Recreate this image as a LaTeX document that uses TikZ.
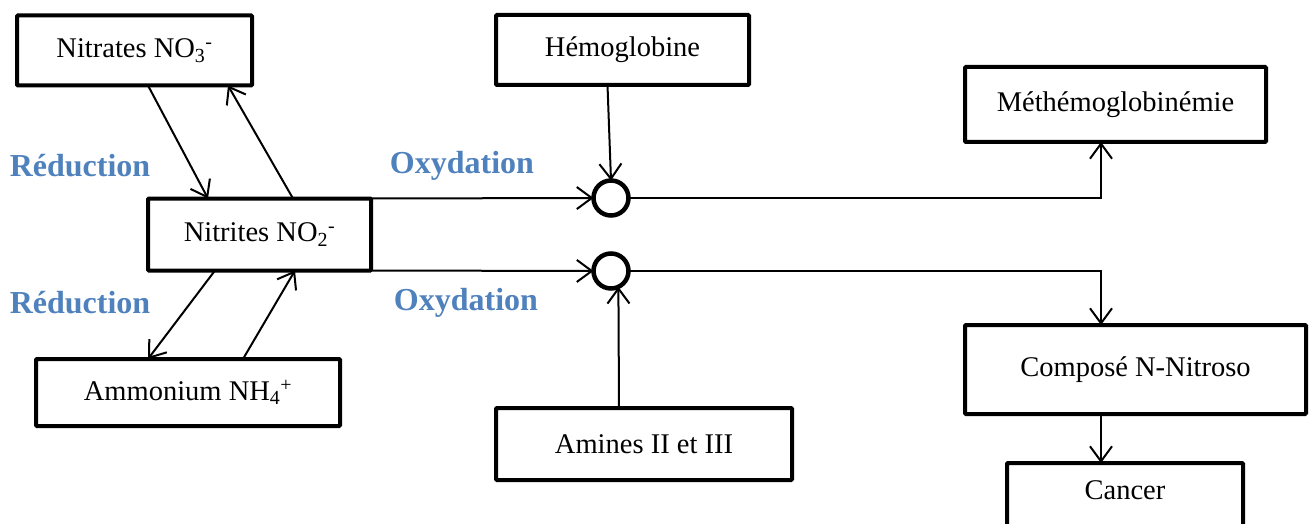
\documentclass[tikz,border=0pt]{standalone}
\usepackage{fontspec}
\setmainfont{Liberation Serif}
\usetikzlibrary{arrows.meta}
\definecolor{lblue}{RGB}{79,129,189}
\tikzset{
  box/.style={draw, line width=4pt, rounded corners=1pt, outer sep=0pt, inner sep=0pt,
    font=\fontsize{28.5}{34}\selectfont},
  junc/.style={draw, circle, line width=4.5pt, minimum size=35pt, inner sep=0pt, outer sep=0pt},
  arr/.style={line width=2pt, -{Straight Barb[length=15pt,width=22pt,line width=2pt]}},
  thinarr/.style={line width=1.5pt, -{Straight Barb[length=15pt,width=22pt,line width=2pt]}},
  lbl/.style={text=lblue, font=\bfseries\fontsize{32}{38}\selectfont, inner sep=0pt}
}
\begin{document}
\begin{tikzpicture}[x=1pt,y=-1pt]
\useasboundingbox (0,0) rectangle (1312,524);
% boxes
\node[box, minimum width=235pt, minimum height=70pt] (nitrates) at (134.5,50.5) {Nitrates NO\textsubscript{3}\textsuperscript{-}};
\node[box, minimum width=223pt, minimum height=72pt] (nitrites) at (259.5,234.5) {Nitrites NO\textsubscript{2}\textsuperscript{-}};
\node[box, minimum width=304pt, minimum height=67pt] (ammonium) at (188,392.5) {Ammonium NH\textsubscript{4}\textsuperscript{+}};
\node[box, minimum width=253pt, minimum height=70pt] (hemo) at (622.5,50) {Hémoglobine};
\node[box, minimum width=301pt, minimum height=75pt] (meth) at (1115.5,104.5) {Méthémoglobinémie};
\node[box, minimum width=341pt, minimum height=89pt] (compose) at (1135.5,369.5) {Composé N-Nitroso};
\node[box, minimum width=296pt, minimum height=72pt] (amines) at (644,444) {Amines II et III};
\node[box, minimum width=236pt, anchor=north, text height=36pt, text depth=40pt] (cancer) at (1125,463) {Cancer};
% junctions
\node[junc] (c1) at (611,198) {};
\node[junc] (c2) at (611,271) {};
% labels
\node[lbl] (r1) at (80,166) {Réduction};
\node[lbl] (r2) at (80,303) {Réduction};
\node[lbl] (o1) at (462,166) {Oxydation};
\node[lbl] (o2) at (466,303) {Oxydation};
% nitrogen cycle arrows
\draw[arr] ([xshift=131pt]nitrates.south west) -- ([xshift=60pt]nitrites.north west);
\draw[arr] ([xshift=145pt]nitrites.north west) -- ([xshift=211pt]nitrates.south west);
\draw[arr] ([xshift=67pt]nitrites.south west) -- ([xshift=112pt]ammonium.north west);
\draw[arr] ([xshift=207pt]ammonium.north west) -- ([xshift=147pt]nitrites.south west);
% to junctions
\draw[arr] (nitrites.north east) -- (c1.west);
\draw[arr] (nitrites.south east) -- (c2.west);
\draw[arr] ([xshift=-15pt]hemo.south) -- (c1.north);
\draw[arr] ([xshift=-25pt]amines.north) -- (c2.-65);
% outputs
\draw[thinarr] (c1.east) -| ([xshift=-14.5pt]meth.south);
\draw[thinarr] (c2.east) -| ([xshift=-34.5pt]compose.north);
\draw[arr] ([xshift=-34.5pt]compose.south) -- ([xshift=-34.5pt]compose.south |- cancer.north);
\end{tikzpicture}
\end{document}
